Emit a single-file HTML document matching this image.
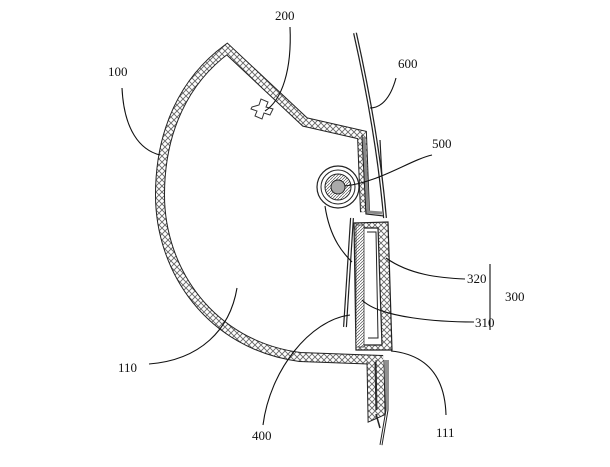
<!DOCTYPE html>
<html><head><style>html,body{margin:0;padding:0;background:#fff}svg{display:block}text{font-family:"Liberation Serif",serif;font-size:13px;fill:#111}</style></head>
<body>
<svg width="610" height="467" viewBox="0 0 610 467" xmlns="http://www.w3.org/2000/svg">
<defs>
<pattern id="h" width="6" height="6" patternUnits="userSpaceOnUse">
<rect width="6" height="6" fill="#fff"/>
<path d="M0,0L6,6M6,0L0,6" stroke="#666" stroke-width="0.9"/>
</pattern>
<pattern id="d" width="3" height="3" patternUnits="userSpaceOnUse">
<rect width="3" height="3" fill="#fff"/><path d="M0,3L3,0" stroke="#555" stroke-width="0.7"/>
</pattern>
</defs>
<g fill="none" stroke-linejoin="miter">
<path d="M365,212 L362,135 L305,122 L227,49 C185,80 160,130 160,195 C160,270 210,345 300,357 L383,360" stroke="#222" stroke-width="10"/>
<path d="M365,212 L362,135 L305,122 L227,49 C185,80 160,130 160,195 C160,270 210,345 300,357 L383,360" stroke="url(#h)" stroke-width="8"/>
<path d="M362,135 L366,214 L384,216 L380,140" stroke="#222" stroke-width="1.2"/>
<path d="M364,137 L368,212 L382,213" stroke="#888" stroke-width="3"/>
<path d="M380,360 L381,412 L372,416 L371,362" stroke="#222" stroke-width="9"/>
<path d="M380,360 L381,412 L372,416 L371,362" stroke="url(#h)" stroke-width="7"/>
<path d="M376,414 L380,428" stroke="#222" stroke-width="1.5"/>
<path d="M355,33 C370,100 380,160 385,218" stroke="#222" stroke-width="4"/>
<path d="M355,33 C370,100 380,160 385,218" stroke="#fff" stroke-width="1.5"/>
<path d="M387,360 L387,410 L381,445" stroke="#222" stroke-width="3"/>
<path d="M387,360 L387,410 L381,445" stroke="#fff" stroke-width="1"/>
<path d="M252,107 l7,-2 l2,-6 l7,3 l-2,5 l7,2 l-3,6 l-6,-2 l-2,6 l-7,-3 l2,-5 l-6,-2 z" stroke="#333" stroke-width="1" fill="#fff"/>
<circle cx="338" cy="187" r="21" stroke="#222" stroke-width="1.2" fill="#fff"/>
<circle cx="338" cy="187" r="17" stroke="#222" stroke-width="1"/>
<circle cx="338" cy="187" r="13" stroke="#222" stroke-width="1" fill="url(#d)"/>
<circle cx="338" cy="187" r="7" stroke="#222" stroke-width="1" fill="#aaa"/>
<path d="M354,223 L388,222 L392,350 L356,350 Z" stroke="#222" stroke-width="1.2" fill="url(#h)"/>
<path d="M363,228 L378,228 L382,345 L362,345 Z" stroke="#222" stroke-width="1.2" fill="#fff"/>
<path d="M367,232 L376,232 L378,338 L368,338" stroke="#222" stroke-width="1"/>
<rect x="356" y="225" width="8" height="122" fill="url(#d)" stroke="#333" stroke-width="0.8"/>
<path d="M352,218 L345,327" stroke="#222" stroke-width="4"/>
<path d="M352,218 L345,327" stroke="#fff" stroke-width="1.6"/>
<g stroke="#111" stroke-width="1.1">
<path d="M290,27 C292,70 282,100 265,111"/>
<path d="M122,88 C124,130 140,150 160,155"/>
<path d="M396,78 C390,100 380,108 370,108"/>
<path d="M345,186 C380,182 410,160 432,155"/>
<path d="M325,206 C330,240 345,255 352,262"/>
<path d="M386,258 C410,275 440,278 465,279"/>
<path d="M362,300 C380,318 440,322 474,322"/>
<path d="M149,364 C200,360 230,330 237,288"/>
<path d="M263,425 C270,370 310,320 350,315"/>
<path d="M391,351 C430,355 445,380 446,415"/>
<path d="M490,264 L490,330"/>
</g>
</g>
<text x="275" y="20">200</text>
<text x="108" y="76">100</text>
<text x="398" y="68">600</text>
<text x="432" y="148">500</text>
<text x="467" y="283">320</text>
<text x="505" y="301">300</text>
<text x="475" y="327">310</text>
<text x="118" y="372">110</text>
<text x="252" y="440">400</text>
<text x="436" y="437">111</text>
</svg>
</body></html>
